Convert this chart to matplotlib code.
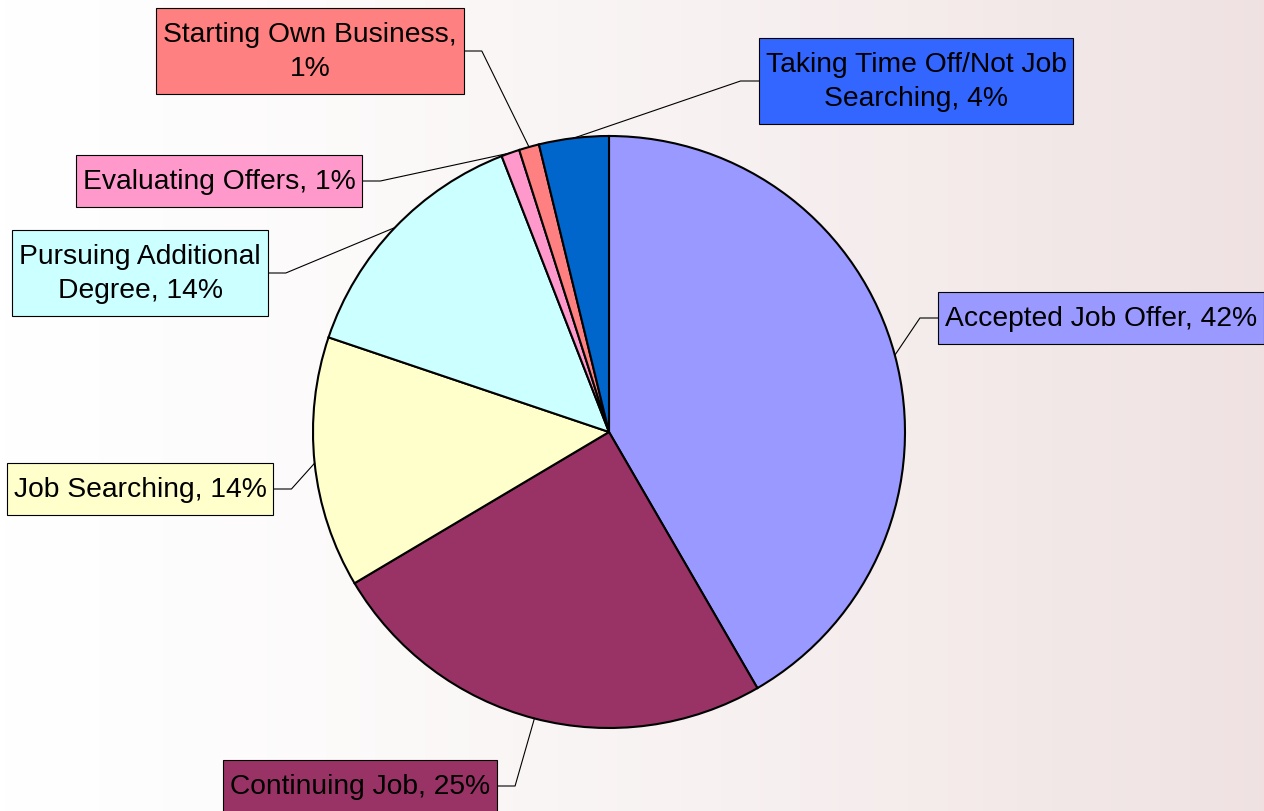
import numpy as np
import matplotlib
matplotlib.use("Agg")
import matplotlib.pyplot as plt
from matplotlib.patches import Rectangle

plt.rcParams['font.family'] = ['Liberation Sans', 'DejaVu Sans']

# datos del grafico (orden horario desde las 12)
labels = ["Accepted Job Offer", "Continuing Job", "Job Searching",
          "Pursuing Additional\nDegree", "Evaluating Offers",
          "Starting Own Business,\n", "Taking Time Off/Not Job\nSearching"]
values = [41.6, 24.8, 13.7, 13.9, 1.0, 1.1, 3.8]
slice_colors = ["#9999FF", "#993366", "#FFFFCC", "#CCFFFF", "#FF99CC", "#FF8080", "#0066CC"]
box_colors = ["#9999FF", "#993366", "#FFFFCC", "#CCFFFF", "#FF99CC", "#FF8080", "#3366FF"]

# posicion de las cajas (centro, en pixeles, y hacia arriba)
box_centers = [(1101, 493), (360, 25), (140, 322), (140, 538), (219, 630), (310, 760), (916, 730)]
box_side = ["left", "right", "right", "right", "right", "right", "left"]

W, H = 1264, 812
fig = plt.figure(figsize=(W / 100, H / 100), dpi=100)
ax = fig.add_axes([0, 0, 1, 1])

# fondo degradado
grad = np.linspace(0, 1, 256) ** 1.3
c0 = np.array([1.0, 1.0, 1.0])
c1 = np.array([0.94, 0.886, 0.886])
img = c0[None, :] + (c1 - c0)[None, :] * grad[:, None]
ax.imshow(img[None, :, :], extent=(0, W, 0, H), aspect='auto', zorder=0)

cx, cy, r = 609, H - 433, 296
wedges, _ = ax.pie(values, colors=slice_colors, startangle=90, counterclock=False,
                   center=(cx, cy), radius=r,
                   wedgeprops=dict(edgecolor='black', linewidth=1.5))
for w in wedges:
    w.set_zorder(2)

ax.set_xlim(0, W)
ax.set_ylim(0, H)
ax.set_aspect('auto')
ax.axis('off')

texts = []
for lab, v, (bx, by) in zip(labels, values, box_centers):
    if lab.endswith("\n"):
        s = f"{lab}{round(v)}%"
    else:
        s = f"{lab}, {round(v)}%"
    t = ax.text(bx, by, s, ha='center', va='center', fontsize=20.3, linespacing=1.4,
                zorder=5)
    texts.append(t)

fig.canvas.draw()
inv = ax.transData.inverted()
padx, pady = 7, 13
for w, t, side, bc, (bx, by) in zip(wedges, texts, box_side, box_colors, box_centers):
    ext = t.get_window_extent()
    (x0, y0), (x1, y1) = inv.transform([[ext.x0, ext.y0], [ext.x1, ext.y1]])
    bw = (x1 - x0) + 2 * padx
    bh = (y1 - y0) + 2 * pady
    ax.add_patch(Rectangle((bx - bw / 2, by - bh / 2), bw, bh, facecolor=bc,
                           edgecolor='black', linewidth=0.8, zorder=4))
    ang = np.deg2rad((w.theta1 + w.theta2) / 2)
    px, py = cx + r * np.cos(ang), cy + r * np.sin(ang)
    if side == "right":
        xe = bx + bw / 2
        xs = [xe, xe + 18, px]
    else:
        xe = bx - bw / 2
        xs = [xe, xe - 18, px]
    ax.plot(xs, [by, by, py], color='black', linewidth=0.8, zorder=3)

fig.savefig("out.png", dpi=100)
